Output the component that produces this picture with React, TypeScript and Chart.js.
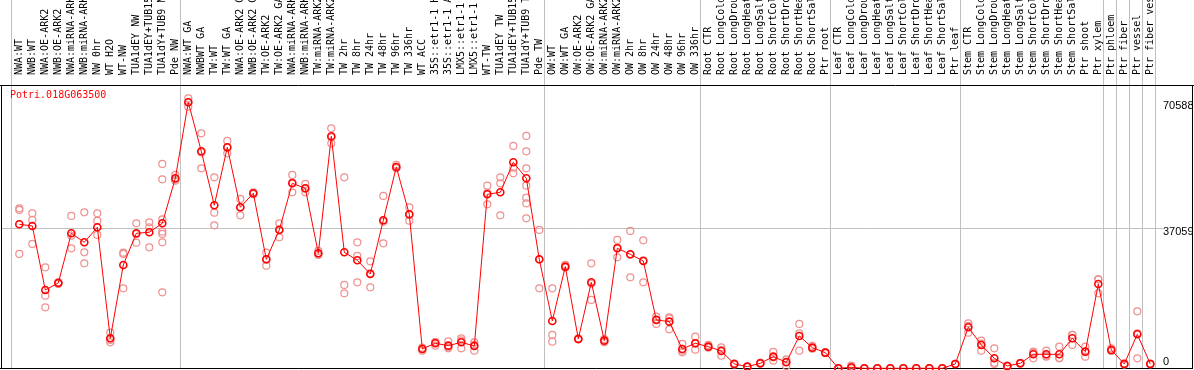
import React, { useEffect, useRef } from "react";
import { Chart, registerables } from "chart.js";

Chart.register(...registerables);

const geneName = "Potri.018G063500";

const categories = [
  "NWA:WT", "NWB:WT", "NWA:OE-ARK2", "NWB:OE-ARK2", "NWA:miRNA-ARK2", "NWB:miRNA-ARK2", "NW 0hr", "WT H2O", "WT-NW",
  "TUA1dEY NW", "TUA1dEY+TUB15 NW", "TUA1dY+TUB9 NW", "Pde NW",
  "NWA:WT GA", "NWBWT GA", "TW:WT", "TW:WT GA", "NWA:OE-ARK2 GA", "NWB:OE-ARK2 GA", "TW:OE-ARK2", "TW:OE-ARK2 GA",
  "NWA:miRNA-ARK2 GA", "NWB:miRNA-ARK2 GA", "TW:miRNA-ARK2", "TW:miRNA-ARK2 GA", "TW 2hr", "TW 8hr", "TW 24hr",
  "TW 48hr", "TW 96hr", "TW 336hr", "WT ACC", "35S::etr1-1 H2O", "35S::etr1-1 ACC", "LMX5::etr1-1 H2O",
  "LMX5::etr1-1 ACC", "WT-TW", "TUA1dEY TW", "TUA1dEY+TUB15 TW", "TUA1dY+TUB9 TW", "Pde TW",
  "OW:WT", "OW:WT GA", "OW:OE-ARK2", "OW:OE-ARK2 GA", "OW:miRNA-ARK2", "OW:miRNA-ARK2 GA", "OW 2hr", "OW 8hr",
  "OW 24hr", "OW 48hr", "OW 96hr", "OW 336hr",
  "Root CTR", "Root LongCold", "Root LongDrought", "Root LongHeat", "Root LongSalt", "Root ShortCold",
  "Root ShortDrought", "Root ShortHeat", "Root ShortSalt", "Ptr root",
  "Leaf CTR", "Leaf LongCold", "Leaf LongDrought", "Leaf LongHeat", "Leaf LongSalt", "Leaf ShortCold",
  "Leaf ShortDrought", "Leaf ShortHeat", "Leaf ShortSalt", "Ptr leaf",
  "Stem CTR", "Stem LongCold", "Stem LongDrought", "Stem LongHeat", "Stem LongSalt", "Stem ShortCold",
  "Stem ShortDrought", "Stem ShortHeat", "Stem ShortSalt", "Ptr shoot", "Ptr xylem",
  "Ptr phloem", "Ptr fiber", "Ptr vessel", "Ptr fiber vessel",
];

const groupSizes = [13, 28, 12, 10, 10, 11, 1, 1, 1, 1];

const meanValues = [
  38215, 37772, 20788, 22646, 35826, 33438, 37419, 7961, 27423, 35826, 36092, 38480, 50422,
  70588, 57587, 43257, 58649, 42726, 46442, 28926, 36711, 49095, 47768, 30519, 61568, 30784, 28661, 25034,
  39276, 53430, 40869, 5131, 6635, 6015, 6900, 5927, 46176, 46707, 54668, 50422,
  28926, 12561, 26980, 7784, 22823, 7342, 31846, 30253, 28484, 12827, 12384, 5131,
  6635, 5750, 4600, 1150, 442, 1327, 3096, 1592, 8581, 5485,
  4158, 0, 265, 0, 0, 0, 0, 0, 0, 0,
  1150, 10881, 6192, 2654, 619, 1327, 3715, 3715, 3715, 7961, 4423, 22380,
  4865, 1150, 9023, 1150,
];

const replicateValues = [
  [42461, 42019, 30342], [41134, 39365, 32996], [26803, 19284, 16188], [22400, 22700, 22900],
  [40426, 31846, 35206], [41399, 30784, 27865], [41134, 39099, 35384], [9465, 6900, 7519],
  [30696, 30342, 21230], [38480, 33349, 35600], [38745, 32111, 37400],
  [54226, 50157, 39542, 36269, 35649, 33438, 20169], [51307, 49803, 50150],
  [71653, 69441, 70600], [62364, 53076, 57300], [50688, 41311, 37949], [60330, 57057, 58560],
  [44938, 40603, 42640], [46707, 46442, 46200], [30696, 27246, 28830], [38480, 34765, 36890],
  [51307, 46707, 49270], [48918, 46707, 47680], [31138, 30076, 30340], [63691, 59711, 61300],
  [50688, 22115, 19904], [33438, 29811, 22823], [28396, 21496, 25210], [45734, 33173, 38920],
  [53961, 53200, 53100], [42726, 39188, 40690], [5485, 4688, 5220], [6900, 6015, 6990],
  [5573, 5308, 7160], [7961, 5308, 7430], [6900, 4688, 6190], [48476, 43522, 46530],
  [50688, 49095, 40603], [59003, 51749, 53250],
  [61657, 57587, 53076, 48476, 45292, 43788, 39807], [36711, 21230, 28840],
  [21230, 8846, 7077], [27423, 26800, 26720], [7961, 7700, 7690], [27865, 18134, 22470],
  [6900, 7350, 7780], [34058, 29457, 32020], [36446, 24150, 30160], [33969, 22823, 28660],
  [13711, 11765, 13000], [13269, 10350, 13530], [6458, 4688, 4250],
  [8404, 4954, 6550], [6192, 5600, 5460], [3361, 4900, 5540], [1327, 1100, 1020], [442, 400, 480],
  [1504, 1300, 1180], [4335, 2035, 2920], [2388, 619, 1770], [11765, 9288, 4688], [5927, 5200, 5330],
  [4158, 4300, 4020], [0, 0, 0], [708, 0, 90], [0, 0, 0], [0, 0, 0], [0, 0, 0], [0, 0, 0],
  [0, 0, 0], [0, 0, 0], [0, 0, 0],
  [1150, 1100, 1200], [11942, 9465, 11240], [7342, 4688, 6550], [5308, 1150, 1500], [619, 500, 740],
  [1327, 1200, 1450], [4423, 2654, 4070], [4688, 3096, 3360], [5750, 2654, 2740], [8846, 6192, 8850],
  [5750, 3096, 4420], [23619, 19904, 23620],
  [5308, 4600, 4690], [1150, 1000, 1300], [15127, 2654, 9290], [1150, 1050, 1250],
];

const yTickValues = [0, 37059, 70588];
const gridValue = 37059;

const framePlugin = {
  id: "frame",
  beforeDatasetsDraw(chart: any) {
    const { ctx, chartArea, scales } = chart;
    const xs = scales.x;
    ctx.save();
    ctx.lineWidth = 1;
    ctx.strokeStyle = "#c0c0c0";
    const bounds = [0];
    let cum = 0;
    groupSizes.forEach((s) => {
      cum += s;
      bounds.push(cum);
    });
    bounds.forEach((b) => {
      const px = Math.round(xs.getPixelForValue(b - 0.62)) + 0.5;
      ctx.beginPath();
      ctx.moveTo(px, 0);
      ctx.lineTo(px, chartArea.bottom);
      ctx.stroke();
    });
    ctx.strokeStyle = "#000000";
    const top = chartArea.top + 0.5;
    const bottom = chartArea.bottom - 0.5;
    const left = chartArea.left + 0.5;
    const right = chart.width - 1.5;
    ctx.beginPath();
    ctx.moveTo(0, top);
    ctx.lineTo(chart.width, top);
    ctx.moveTo(0, bottom);
    ctx.lineTo(right, bottom);
    ctx.moveTo(left, top);
    ctx.lineTo(left, chartArea.bottom);
    ctx.moveTo(right, top);
    ctx.lineTo(right, chartArea.bottom);
    ctx.stroke();
    ctx.restore();
  },
  afterDraw(chart: any) {
    const { ctx, chartArea, scales } = chart;
    const ys = scales.y;
    ctx.save();
    ctx.fillStyle = "#ff0000";
    ctx.font = "10px 'DejaVu Sans Mono'";
    ctx.textAlign = "left";
    ctx.textBaseline = "middle";
    ctx.fillText(geneName, 10, chartArea.top + 10);
    ctx.fillStyle = "#000000";
    ctx.font = "11px 'Liberation Sans'";
    yTickValues.forEach((v) => {
      const py = Math.min(ys.getPixelForValue(v) + 3.5, chartArea.bottom - 7);
      ctx.fillText(String(v), chartArea.right + 7, py);
    });
    ctx.restore();
  },
};

export default function App() {
  const canvasRef = useRef<HTMLCanvasElement | null>(null);

  useEffect(() => {
    document.body.style.margin = "0";
    const canvas = canvasRef.current;
    if (!canvas) return;

    const meanData = meanValues.map((v, i) => ({ x: i, y: v }));
    const repData: { x: number; y: number }[] = [];
    replicateValues.forEach((reps, i) => reps.forEach((v) => repData.push({ x: i, y: v })));

    const chart = new Chart(canvas, {
      type: "line",
      data: {
        datasets: [
          {
            label: "mean",
            data: meanData,
            borderColor: "#ff0000",
            borderWidth: 1,
            pointStyle: "circle",
            pointRadius: 3.5,
            pointBorderWidth: 1.6,
            pointBorderColor: "#ff0000",
            pointBackgroundColor: "rgba(0,0,0,0)",
            tension: 0,
            fill: false,
            clip: false,
          },
          {
            label: "replicates",
            data: repData,
            showLine: false,
            borderColor: "#ee9090",
            pointStyle: "circle",
            pointRadius: 3.5,
            pointBorderWidth: 1.2,
            pointBorderColor: "#ee9090",
            pointBackgroundColor: "rgba(0,0,0,0)",
            clip: false,
          },
        ],
      },
      options: {
        animation: false,
        responsive: false,
        devicePixelRatio: 1,
        layout: { autoPadding: false, padding: { left: 1, right: 0, top: 0, bottom: 1 } },
        plugins: {
          legend: { display: false },
          tooltip: { enabled: false },
          title: { display: false },
        },
        scales: {
          x: {
            type: "linear",
            position: "top",
            min: -1.408,
            max: 87.438,
            grid: { display: false },
            border: { display: false },
            afterBuildTicks: (scale: any) => {
              scale.ticks = categories.map((_, i) => ({ value: i }));
            },
            afterFit: (scale: any) => {
              scale.height = 85;
            },
            ticks: {
              autoSkip: false,
              minRotation: 90,
              maxRotation: 90,
              padding: 2,
              labelOffset: 12,
              color: "#000000",
              font: { family: "'DejaVu Sans Mono'", size: 10 },
              callback: (value: any) => categories[value as number] ?? "",
            },
          },
          y: {
            type: "linear",
            position: "right",
            min: -186,
            max: 75180,
            afterBuildTicks: (scale: any) => {
              scale.ticks = yTickValues.map((v) => ({ value: v }));
            },
            afterFit: (scale: any) => {
              scale.width = 38;
            },
            border: { display: false },
            grid: {
              drawTicks: true,
              tickLength: 7,
              lineWidth: 1,
              color: (ctx: any) => (ctx.tick && ctx.tick.value === gridValue ? "#c0c0c0" : "rgba(0,0,0,0)"),
            },
            ticks: { display: false },
          },
        },
      },
      plugins: [framePlugin],
    });

    return () => chart.destroy();
  }, []);

  return (
    <div style={{ width: 1194, height: 370, background: "#ffffff" }}>
      <canvas ref={canvasRef} width={1194} height={370} style={{ display: "block" }} />
    </div>
  );
}
